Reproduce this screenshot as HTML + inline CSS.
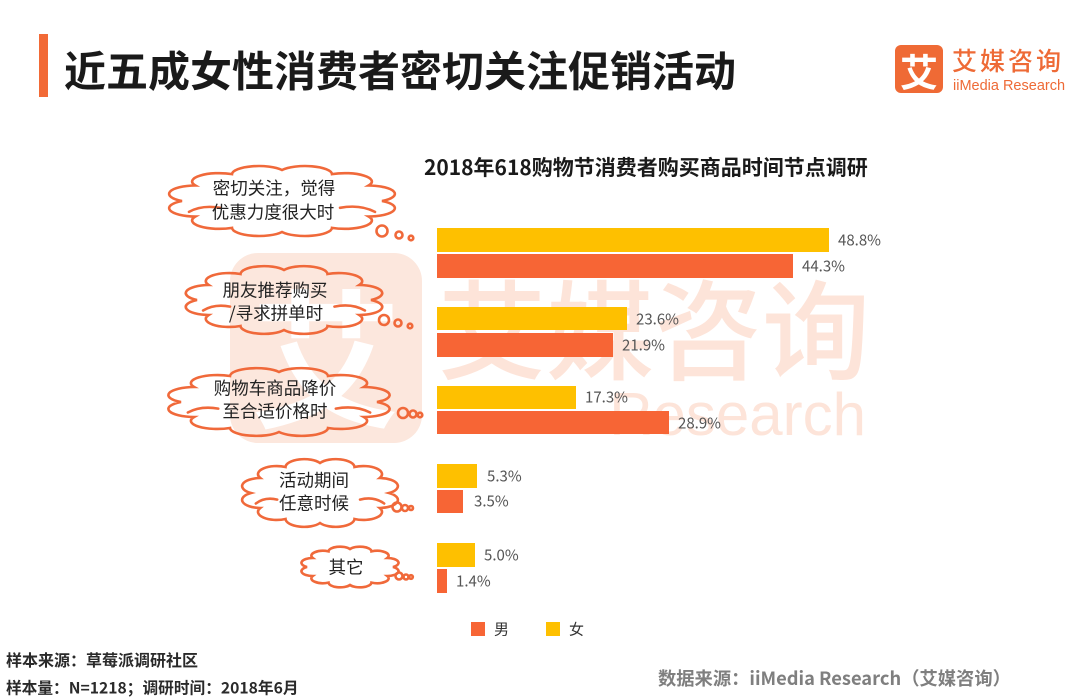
<!DOCTYPE html>
<html><head><meta charset="utf-8">
<style>
html,body{margin:0;padding:0;background:#fff;}
svg{display:block;}
text{font-family:"Liberation Sans","Noto Sans CJK SC",sans-serif;}
.cjk{font-family:"Noto Sans CJK SC","Liberation Sans",sans-serif;}
</style></head>
<body>
<svg width="1080" height="698" viewBox="0 0 1080 698" xmlns="http://www.w3.org/2000/svg">
<rect width="1080" height="698" fill="#fff"/>

<!-- Title -->
<rect x="39" y="34" width="9" height="63" fill="#f26a36"/>
<text class="cjk" x="64" y="69" font-size="42" font-weight="700" fill="#1a1a1a" dominant-baseline="central">近五成女性消费者密切关注促销活动</text>

<!-- Top-right logo -->
<rect x="895" y="45" width="48" height="48" rx="6" fill="#ef6a35"/>
<text class="cjk" x="919" y="70" font-size="38" font-weight="700" fill="#fff" text-anchor="middle" dominant-baseline="central">艾</text>
<text class="cjk" x="952" y="60" font-size="25" font-weight="500" fill="#ee6a36" letter-spacing="3" dominant-baseline="central">艾媒咨询</text>
<text x="953" y="90" font-size="14.5" fill="#ee6a36">iiMedia Research</text>

<!-- Watermark -->
<rect x="230" y="253" width="192" height="190" rx="28" fill="#fce7dd"/>
<text class="cjk" x="326" y="352" font-size="150" font-weight="700" fill="#fff" text-anchor="middle" dominant-baseline="central">艾</text>
<text class="cjk" x="438" y="325" font-size="108" font-weight="500" fill="#fde4d9" dominant-baseline="central">艾媒咨询</text>
<text x="866" y="435" font-size="60" fill="#fde4d9" text-anchor="end">Research</text>

<!-- Chart title -->
<text class="cjk" x="424" y="167" font-size="21" font-weight="700" fill="#1a1a1a" dominant-baseline="central">2018年618购物节消费者购买商品时间节点调研</text>

<!-- Bars -->
<g>
<rect x="437" y="228" width="392" height="24" fill="#fec000"/>
<rect x="437" y="254" width="356" height="24" fill="#f76535"/>
<rect x="437" y="307" width="190" height="23" fill="#fec000"/>
<rect x="437" y="333" width="176" height="24" fill="#f76535"/>
<rect x="437" y="386" width="139" height="23" fill="#fec000"/>
<rect x="437" y="411" width="232" height="23" fill="#f76535"/>
<rect x="437" y="464" width="40" height="24" fill="#fec000"/>
<rect x="437" y="490" width="26" height="23" fill="#f76535"/>
<rect x="437" y="543" width="38" height="24" fill="#fec000"/>
<rect x="437" y="569" width="10" height="24" fill="#f76535"/>
</g>

<!-- Value labels -->
<g class="cjk" font-size="15" fill="#555" dominant-baseline="central">
<text class="cjk" x="838" y="240">48.8%</text>
<text class="cjk" x="802" y="266">44.3%</text>
<text class="cjk" x="636" y="319">23.6%</text>
<text class="cjk" x="622" y="345">21.9%</text>
<text class="cjk" x="585" y="397">17.3%</text>
<text class="cjk" x="678" y="423">28.9%</text>
<text class="cjk" x="487" y="476">5.3%</text>
<text class="cjk" x="474" y="501">3.5%</text>
<text class="cjk" x="484" y="555">5.0%</text>
<text class="cjk" x="456" y="581">1.4%</text>
</g>

<!-- Clouds -->
<g fill="none" stroke="#f0693a" stroke-width="2.6" stroke-linecap="round">
<path vector-effect="non-scaling-stroke" transform="translate(282,201) scale(100,31)" d="M1 0 A.27 .27 0 0 1 .866 .5 A.27 .27 0 0 1 .5 .866 A.27 .27 0 0 1 0 1 A.27 .27 0 0 1 -.5 .866 A.27 .27 0 0 1 -.866 .5 A.27 .27 0 0 1 -1 0 A.27 .27 0 0 1 -.866 -.5 A.27 .27 0 0 1 -.5 -.866 A.27 .27 0 0 1 0 -1 A.27 .27 0 0 1 .5 -.866 A.27 .27 0 0 1 .866 -.5 A.27 .27 0 0 1 1 0 Z M.93 .35 Q.78 .1 .58 .22 M-.93 .35 Q-.8 .12 -.62 .22"/>
<path vector-effect="non-scaling-stroke" transform="translate(284,300) scale(87,30)" d="M1 0 A.27 .27 0 0 1 .866 .5 A.27 .27 0 0 1 .5 .866 A.27 .27 0 0 1 0 1 A.27 .27 0 0 1 -.5 .866 A.27 .27 0 0 1 -.866 .5 A.27 .27 0 0 1 -1 0 A.27 .27 0 0 1 -.866 -.5 A.27 .27 0 0 1 -.5 -.866 A.27 .27 0 0 1 0 -1 A.27 .27 0 0 1 .5 -.866 A.27 .27 0 0 1 .866 -.5 A.27 .27 0 0 1 1 0 Z M.93 .35 Q.78 .1 .58 .22 M-.93 .35 Q-.8 .12 -.62 .22"/>
<path vector-effect="non-scaling-stroke" transform="translate(279,402) scale(98,30)" d="M1 0 A.27 .27 0 0 1 .866 .5 A.27 .27 0 0 1 .5 .866 A.27 .27 0 0 1 0 1 A.27 .27 0 0 1 -.5 .866 A.27 .27 0 0 1 -.866 .5 A.27 .27 0 0 1 -1 0 A.27 .27 0 0 1 -.866 -.5 A.27 .27 0 0 1 -.5 -.866 A.27 .27 0 0 1 0 -1 A.27 .27 0 0 1 .5 -.866 A.27 .27 0 0 1 .866 -.5 A.27 .27 0 0 1 1 0 Z M.93 .35 Q.78 .1 .58 .22 M-.93 .35 Q-.8 .12 -.62 .22"/>
<path vector-effect="non-scaling-stroke" transform="translate(320,493) scale(69,30)" d="M1 0 A.27 .27 0 0 1 .866 .5 A.27 .27 0 0 1 .5 .866 A.27 .27 0 0 1 0 1 A.27 .27 0 0 1 -.5 .866 A.27 .27 0 0 1 -.866 .5 A.27 .27 0 0 1 -1 0 A.27 .27 0 0 1 -.866 -.5 A.27 .27 0 0 1 -.5 -.866 A.27 .27 0 0 1 0 -1 A.27 .27 0 0 1 .5 -.866 A.27 .27 0 0 1 .866 -.5 A.27 .27 0 0 1 1 0 Z M.93 .35 Q.78 .1 .58 .22 M-.93 .35 Q-.8 .12 -.62 .22"/>
<path vector-effect="non-scaling-stroke" transform="translate(350,567) scale(43,18)" d="M1 0 A.27 .27 0 0 1 .866 .5 A.27 .27 0 0 1 .5 .866 A.27 .27 0 0 1 0 1 A.27 .27 0 0 1 -.5 .866 A.27 .27 0 0 1 -.866 .5 A.27 .27 0 0 1 -1 0 A.27 .27 0 0 1 -.866 -.5 A.27 .27 0 0 1 -.5 -.866 A.27 .27 0 0 1 0 -1 A.27 .27 0 0 1 .5 -.866 A.27 .27 0 0 1 .866 -.5 A.27 .27 0 0 1 1 0 Z"/>
<!-- bubbles -->
<circle cx="382" cy="231" r="5.5"/><circle cx="399" cy="235" r="3.5"/><circle cx="411" cy="238" r="2.3"/>
<circle cx="384" cy="320" r="5"/><circle cx="398" cy="323" r="3.5"/><circle cx="410" cy="326" r="2.3"/>
<circle cx="403" cy="413" r="5"/><circle cx="413" cy="414" r="3.5"/><circle cx="420" cy="415" r="2.3"/>
<circle cx="397" cy="507" r="4.5"/><circle cx="405" cy="508" r="3"/><circle cx="411" cy="508" r="2"/>
<circle cx="399" cy="576" r="3.5"/><circle cx="406" cy="577" r="2.5"/><circle cx="411" cy="577" r="1.8"/>
</g>

<!-- Cloud texts -->
<g font-size="17.5" fill="#222" text-anchor="middle" dominant-baseline="central">
<text class="cjk" x="274" y="188">密切关注，觉得</text>
<text class="cjk" x="273" y="212">优惠力度很大时</text>
<text class="cjk" x="275" y="290">朋友推荐购买</text>
<text class="cjk" x="276" y="313">/寻求拼单时</text>
<text class="cjk" x="275" y="388">购物车商品降价</text>
<text class="cjk" x="275" y="411">至合适价格时</text>
<text class="cjk" x="314" y="480">活动期间</text>
<text class="cjk" x="314" y="503">任意时候</text>
<text class="cjk" x="346" y="567">其它</text>
</g>

<!-- Legend -->
<rect x="471" y="622" width="14" height="14" fill="#f76535"/>
<text class="cjk" x="494" y="629" font-size="15" fill="#333" dominant-baseline="central">男</text>
<rect x="546" y="622" width="14" height="14" fill="#fec000"/>
<text class="cjk" x="569" y="629" font-size="15" fill="#333" dominant-baseline="central">女</text>

<!-- Footer -->
<text class="cjk" x="6" y="659" font-size="16" font-weight="700" fill="#2a2a2a" dominant-baseline="central">样本来源：草莓派调研社区</text>
<text class="cjk" x="6" y="687" font-size="15.7" font-weight="700" fill="#2a2a2a" dominant-baseline="central">样本量：N=1218；调研时间：2018年6月</text>
<text class="cjk" x="658" y="678" font-size="18.3" font-weight="700" fill="#7f7f7f" dominant-baseline="central">数据来源：iiMedia Research（艾媒咨询）</text>
</svg>
</body></html>
